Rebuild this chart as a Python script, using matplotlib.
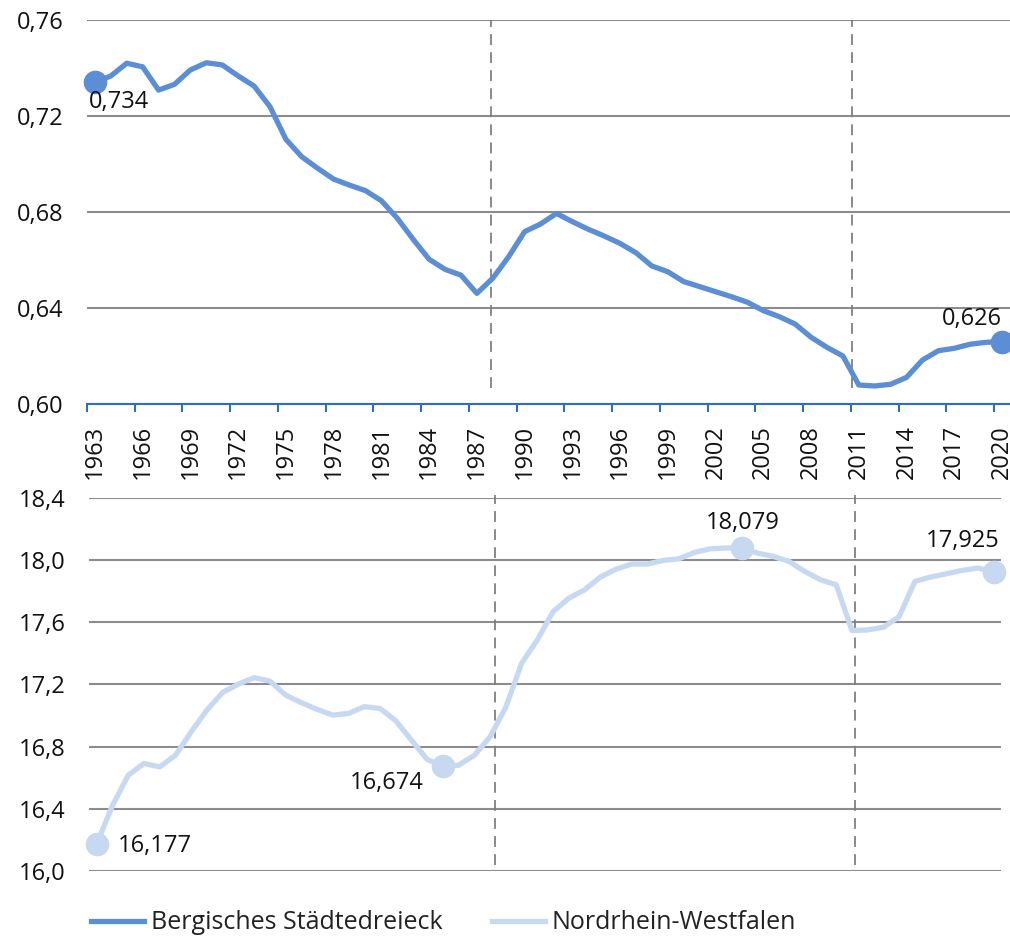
import numpy as np
import matplotlib.pyplot as plt
from matplotlib.ticker import FixedLocator, FuncFormatter
from matplotlib.lines import Line2D

plt.rcParams['font.family'] = ['Open Sans', 'DejaVu Sans']

years = np.arange(1963, 2021)

# Bergisches Städtedreieck
bergisch = [
    0.734, 0.7367, 0.742, 0.7405, 0.7308, 0.7332, 0.7392, 0.7422, 0.7413, 0.7367,
    0.7325, 0.7239, 0.7103, 0.7030, 0.6982, 0.6937, 0.6912, 0.6889, 0.6847, 0.6774,
    0.6686, 0.6603, 0.6561, 0.6537, 0.6461, 0.6524, 0.6614, 0.6718, 0.6750, 0.6794,
    0.6760, 0.6728, 0.6700, 0.6669, 0.6630, 0.6575, 0.6551, 0.6510, 0.6489, 0.6468,
    0.6447, 0.6424, 0.6389, 0.6364, 0.6333, 0.6278, 0.6236, 0.6200, 0.6079, 0.6075,
    0.6082, 0.6111, 0.6183, 0.6222, 0.6232, 0.6249, 0.6257, 0.626,
]

# Nordrhein-Westfalen
nrw = [
    16.177, 16.423, 16.617, 16.692, 16.670, 16.745, 16.896, 17.036, 17.149, 17.203,
    17.244, 17.222, 17.132, 17.083, 17.040, 17.003, 17.014, 17.057, 17.046, 16.967,
    16.842, 16.718, 16.674, 16.681, 16.745, 16.864, 17.055, 17.336, 17.487, 17.669,
    17.755, 17.809, 17.891, 17.942, 17.975, 17.975, 17.998, 18.009, 18.050, 18.073,
    18.078, 18.079, 18.045, 18.024, 17.992, 17.927, 17.874, 17.841, 17.547, 17.551,
    17.568, 17.637, 17.863, 17.891, 17.912, 17.934, 17.949, 17.925,
]

series_names = ['Bergisches Städtedreieck', 'Nordrhein-Westfalen']
dark_blue = '#5B8ED5'
light_blue = '#C6D9F1'
grid_grey = '#8C8C8C'
axis_blue = '#2F6EBA'
fs = 17

# highlighted points: (year, label offset in points, alignment)
top_marks = [(1963, (-4, -14), 'left'), (2020, (0, 16), 'right')]
bottom_marks = [(1963, (15, -2), 'left'), (1985, (-14, -12), 'right'),
                (2004, (1, 18), 'center'), (2020, (4, 22), 'right')]

fig = plt.figure(figsize=(10.10, 9.36), dpi=100)
ax1 = fig.add_axes([0.0861, 0.5684, 0.9139, 0.4102])
ax2 = fig.add_axes([0.0881, 0.0694, 0.9034, 0.3986])


def dec_comma(digits):
    return FuncFormatter(lambda v, pos: f'{v:.{digits}f}'.replace('.', ','))


def style_axes(ax, ymin, ymax, step, digits):
    ax.set_xlim(years[0] - 0.5, years[-1] + 0.5)
    ax.set_ylim(ymin, ymax)
    ax.set_yticks(np.arange(ymin, ymax + step / 2, step))
    ax.yaxis.set_major_formatter(dec_comma(digits))
    ax.grid(axis='y', color=grid_grey, linewidth=1.5)
    ax.set_axisbelow(True)
    for side in ['top', 'right', 'left', 'bottom']:
        ax.spines[side].set_visible(False)
    ax.tick_params(axis='y', length=0, pad=17, labelsize=fs, labelcolor='#111111')


def label_points(ax, values, marks, color):
    for yr, (dx, dy), ha in marks:
        v = values[yr - years[0]]
        ax.plot(yr, v, 'o', color=color, markersize=16, zorder=4, clip_on=False)
        ax.annotate(f'{v:.3f}'.replace('.', ','), (yr, v), xytext=(dx, dy),
                    textcoords='offset points', ha=ha, va='center',
                    fontsize=fs, color='#111111', zorder=5)


# top panel
style_axes(ax1, 0.60, 0.76, 0.04, 2)
ax1.plot(years, bergisch, color=dark_blue, linewidth=3.8, solid_joinstyle='round', zorder=3)
label_points(ax1, bergisch, top_marks, dark_blue)
ax1.spines['bottom'].set_visible(True)
ax1.spines['bottom'].set_color(axis_blue)
ax1.spines['bottom'].set_linewidth(1.5)
ax1.xaxis.set_major_locator(FixedLocator(years[::3] - 0.5))
ax1.xaxis.set_minor_locator(FixedLocator(years[::3]))
ax1.xaxis.set_major_formatter(FuncFormatter(lambda v, pos: ''))
ax1.xaxis.set_minor_formatter(FuncFormatter(lambda v, pos: f'{v:.0f}'))
ax1.tick_params(axis='x', which='major', length=6, width=1.5, color=axis_blue)
ax1.tick_params(axis='x', which='minor', length=0, pad=15, labelsize=fs,
                labelrotation=90, labelcolor='#111111')
for xv in [1987.9, 2010.6]:
    ax1.plot([xv, xv], [0.6067, 0.76], color='#808080', linewidth=1.3,
             dashes=(6, 4), zorder=2)

# bottom panel
style_axes(ax2, 16.0, 18.4, 0.4, 1)
ax2.plot(years, nrw, color=light_blue, linewidth=3.8, solid_joinstyle='round', zorder=3)
label_points(ax2, nrw, bottom_marks, light_blue)
ax2.set_xticks([])
for xv in [1988.3, 2011.2]:
    ax2.plot([xv, xv], [16.04, 18.42], color='#808080', linewidth=1.3,
             dashes=(6, 4), zorder=2, clip_on=False)

handles = [Line2D([], [], color=dark_blue, linewidth=3.8),
           Line2D([], [], color=light_blue, linewidth=3.8)]
fig.legend(handles, series_names, loc='center left', bbox_to_anchor=(0.068, 0.0139),
           ncol=2, frameon=False, fontsize=18, handlelength=2.1,
           handletextpad=0.28, columnspacing=2.0, labelcolor='#222222')

fig.savefig('out.png', dpi=100)
